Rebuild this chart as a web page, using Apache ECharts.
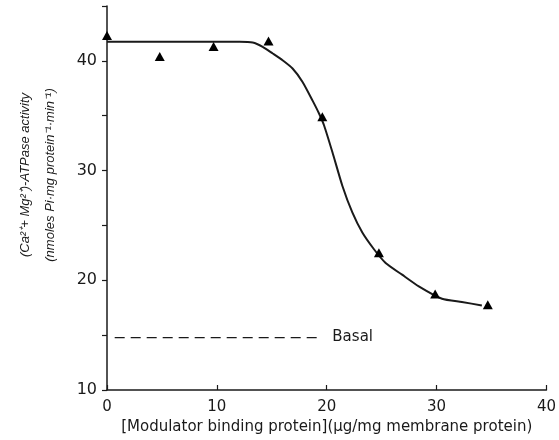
<!DOCTYPE html>
<html>
<head>
<meta charset="utf-8">
<script src="https://cdn.jsdelivr.net/npm/echarts@6/dist/echarts.min.js"></script>
<style>
html, body { margin: 0; padding: 0; background: #fff; }
#chart { width: 559px; height: 440px; }
</style>
</head>
<body>
<div id="chart"></div>
<script>
// measured points (triangles)
var pointX = [0, 4.8, 9.7, 14.7, 19.6, 24.75, 29.87, 34.66];
var pointY = [42.3, 40.4, 41.3, 41.8, 34.9, 22.5, 18.75, 17.77];

// fitted curve
var curveX = [0, 12.06, 13.26, 14.17, 15.08, 15.98, 16.89, 17.8, 18.7, 19.31, 19.76, 20.52, 21.42, 22.33, 23.24, 24.3, 25.36, 26.86, 28.38, 30.49, 32.3, 34.12];
var curveY = [41.75, 41.74, 41.67, 41.28, 40.67, 40.05, 39.3, 38.08, 36.4, 35.18, 34.11, 31.67, 28.62, 26.18, 24.35, 22.83, 21.58, 20.51, 19.45, 18.32, 18.02, 17.71];

// basal level (dashed)
var basalX = [0.7, 19.6];
var basalY = [14.78, 14.78];

var yTickLabels = ['10', '20', '30', '40'];
var xTickLabels = ['0', '10', '20', '30', '40'];

function zip(xs, ys) {
	var out = [];
	for (var i = 0; i < xs.length; i++) out.push([xs[i], ys[i]]);
	return out;
}

var ink = '#1a1a1a';
var chart = echarts.init(document.getElementById('chart'));
var option = {
	animation: false,
	grid: { left: 107, right: 11, top: 6, bottom: 50 },
	xAxis: {
		type: 'value', min: 0, max: 40, interval: 10,
		name: '[Modulator binding protein](\u00b5g/mg membrane protein)',
		nameLocation: 'middle', nameGap: 29,
		nameTextStyle: { fontFamily: 'DejaVu Sans', fontSize: 15, color: ink },
		axisLine: { lineStyle: { color: ink, width: 1.5 } },
		axisTick: { inside: true, length: 5, lineStyle: { color: ink, width: 1.2 } },
		axisLabel: {
			margin: 10, fontFamily: 'DejaVu Sans', fontSize: 15, color: ink,
			formatter: function (v) { return xTickLabels.indexOf(String(v)) >= 0 ? String(v) : ''; }
		},
		splitLine: { show: false }
	},
	yAxis: {
		type: 'value', min: 10, max: 45, interval: 5,
		axisLine: { onZero: false, lineStyle: { color: ink, width: 1.5 } },
		axisTick: { length: 5, lineStyle: { color: ink, width: 1.2 } },
		axisLabel: {
			margin: 10, fontFamily: 'DejaVu Sans', fontSize: 16, color: ink,
			formatter: function (v) { return yTickLabels.indexOf(String(v)) >= 0 ? String(v) : ''; }
		},
		splitLine: { show: false }
	},
	graphic: [
		{
			type: 'text', x: 25, y: 175, rotation: Math.PI / 2,
			style: {
				text: '(Ca\u00b2\u207a+ Mg\u00b2\u207a)-ATPase activity',
				font: 'italic 13px "Liberation Sans"', fill: ink,
				align: 'center', verticalAlign: 'middle'
			}
		},
		{
			type: 'text', x: 50, y: 175, rotation: Math.PI / 2,
			style: {
				text: '(nmoles Pi\u00b7mg protein\u207b\u00b9\u00b7min\u207b\u00b9)',
				font: 'italic 13px "Liberation Sans"', fill: ink,
				align: 'center', verticalAlign: 'middle'
			}
		}
	],
	series: [
		{
			type: 'line', data: zip(curveX, curveY), smooth: 0.2,
			showSymbol: false, lineStyle: { color: ink, width: 2 }, z: 2
		},
		{
			type: 'scatter', data: zip(pointX, pointY),
			symbol: 'triangle', symbolSize: [10, 9],
			itemStyle: { color: '#000', opacity: 1 }, z: 3
		},
		{
			type: 'line', data: zip(basalX, basalY), showSymbol: false,
			lineStyle: { color: ink, width: 1.2, type: [10, 6] },
			endLabel: {
				show: true, formatter: 'Basal', distance: 10,
				fontFamily: 'DejaVu Sans', fontSize: 15, color: ink
			}
		}
	]
};
chart.setOption(option);
</script>
</body>
</html>
